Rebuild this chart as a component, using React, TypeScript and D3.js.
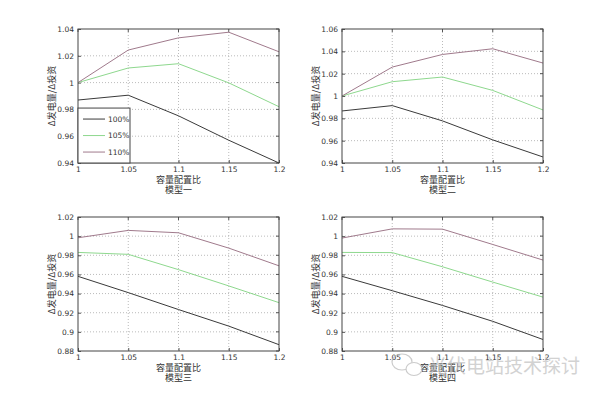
import React, { useRef, useEffect } from "react";
import * as d3 from "d3";

// capacity ratio (x axis)
const ratios = [1, 1.05, 1.1, 1.15, 1.2];
const seriesNames = ["100%", "105%", "110%"];
const seriesColors = ["#3a3a3a", "#8ed88e", "#a07a8c"];

// model 1
const m1s100 = [0.987, 0.9906, 0.9752, 0.957, 0.94];
const m1s105 = [1.0, 1.0109, 1.0141, 0.9998, 0.982];
const m1s110 = [1.0, 1.0243, 1.0334, 1.0376, 1.023];
// model 2
const m2s100 = [0.9866, 0.9914, 0.9777, 0.9607, 0.9454];
const m2s105 = [1.0, 1.0128, 1.017, 1.005, 0.9875];
const m2s110 = [1.0, 1.0259, 1.0372, 1.0423, 1.0295];
// model 3
const m3s100 = [0.958, 0.941, 0.9233, 0.906, 0.8866];
const m3s105 = [0.983, 0.981, 0.965, 0.948, 0.9305];
const m3s110 = [0.9983, 1.006, 1.0035, 0.9875, 0.969];
// model 4
const m4s100 = [0.958, 0.943, 0.9276, 0.911, 0.892];
const m4s105 = [0.983, 0.9828, 0.968, 0.952, 0.9363];
const m4s110 = [0.998, 1.0076, 1.0073, 0.9913, 0.975];

const yTicks1 = [0.94, 0.96, 0.98, 1, 1.02, 1.04];
const yTicks2 = [0.94, 0.96, 0.98, 1, 1.02, 1.04, 1.06];
const yTicks3 = [0.88, 0.9, 0.92, 0.94, 0.96, 0.98, 1, 1.02];

const xLabel = "容量配置比";
const yLabel = "Δ发电量/Δ投资";
const watermark = "光伏电站技术探讨";

const panels = [
  { title: "模型一", series: [m1s100, m1s105, m1s110], yTicks: yTicks1, left: 78, top: 29, legend: true },
  { title: "模型二", series: [m2s100, m2s105, m2s110], yTicks: yTicks2, left: 342, top: 29, legend: false },
  { title: "模型三", series: [m3s100, m3s105, m3s110], yTicks: yTicks3, left: 78, top: 217, legend: false },
  { title: "模型四", series: [m4s100, m4s105, m4s110], yTicks: yTicks3, left: 342, top: 217, legend: false },
];

const W = 600;
const H = 395;
const pw = 201;
const ph = 134;
const fmt = (v: number) => String(+v.toFixed(2));

const App = () => {
  const container = useRef<SVGSVGElement | null>(null);

  useEffect(() => {
    const svg = d3.select(container.current);
    svg.selectAll("*").remove();
    svg.append("rect").attr("width", W).attr("height", H).attr("fill", "#fff");

    panels.forEach((p) => {
      const g = svg.append("g").attr("transform", `translate(${p.left},${p.top})`);
      const x = d3.scaleLinear().domain([1, 1.2]).range([0, pw]);
      const yDom = d3.extent(p.yTicks) as [number, number];
      const y = d3.scaleLinear().domain(yDom).range([ph, 0]);

      // grid
      g.selectAll(".gx")
        .data(ratios.slice(1, -1))
        .enter()
        .append("line")
        .attr("x1", (d) => x(d))
        .attr("x2", (d) => x(d))
        .attr("y1", 0)
        .attr("y2", ph)
        .attr("stroke", "#aaa")
        .attr("stroke-width", 0.8)
        .attr("stroke-dasharray", "1,2");
      g.selectAll(".gy")
        .data(p.yTicks.slice(1, -1))
        .enter()
        .append("line")
        .attr("x1", 0)
        .attr("x2", pw)
        .attr("y1", (d) => y(d))
        .attr("y2", (d) => y(d))
        .attr("stroke", "#aaa")
        .attr("stroke-width", 0.8)
        .attr("stroke-dasharray", "1,2");

      // axes
      const xAxis = d3.axisBottom(x).tickValues(ratios).tickSize(-3).tickPadding(4).tickFormat((d) => fmt(+d));
      const yAxis = d3.axisLeft(y).tickValues(p.yTicks).tickSize(-3).tickPadding(4).tickFormat((d) => fmt(+d));
      const gx = g.append("g").attr("transform", `translate(0,${ph})`).call(xAxis);
      const gy = g.append("g").call(yAxis);
      [gx, gy].forEach((a) => {
        a.select(".domain").remove();
        a.selectAll("line").attr("stroke", "#555");
        a.selectAll("text")
          .style("font-family", "DejaVu Sans, sans-serif")
          .style("font-size", "7.5px")
          .attr("fill", "#333");
      });
      // top/right ticks
      g.selectAll(".tt")
        .data(ratios)
        .enter()
        .append("line")
        .attr("x1", (d) => x(d))
        .attr("x2", (d) => x(d))
        .attr("y1", 0)
        .attr("y2", 3)
        .attr("stroke", "#555");
      g.selectAll(".rt")
        .data(p.yTicks)
        .enter()
        .append("line")
        .attr("x1", pw - 3)
        .attr("x2", pw)
        .attr("y1", (d) => y(d))
        .attr("y2", (d) => y(d))
        .attr("stroke", "#555");

      // lines
      const line = d3
        .line<number>()
        .x((d, i) => x(ratios[i]))
        .y((d) => y(d));
      p.series.forEach((s, i) => {
        g.append("path")
          .attr("d", line(s))
          .attr("fill", "none")
          .attr("stroke", seriesColors[i])
          .attr("stroke-width", 1);
      });

      // frame
      g.append("rect")
        .attr("width", pw)
        .attr("height", ph)
        .attr("fill", "none")
        .attr("stroke", "#444")
        .attr("stroke-width", 1);

      // labels
      g.append("text")
        .attr("transform", `translate(-23,${ph / 2}) rotate(-90)`)
        .attr("text-anchor", "middle")
        .style("font-family", "Noto Sans CJK SC, sans-serif")
        .style("font-size", "9px")
        .attr("fill", "#333")
        .text(yLabel);
      g.append("text")
        .attr("x", pw / 2)
        .attr("y", ph + 20)
        .attr("text-anchor", "middle")
        .style("font-family", "Noto Sans CJK SC, sans-serif")
        .style("font-size", "9px")
        .attr("fill", "#333")
        .text(xLabel);
      g.append("text")
        .attr("x", pw / 2)
        .attr("y", ph + 29.5)
        .attr("text-anchor", "middle")
        .style("font-family", "Noto Sans CJK SC, sans-serif")
        .style("font-size", "9px")
        .attr("fill", "#333")
        .text(p.title);

      if (p.legend) {
        const lg = g.append("g").attr("transform", `translate(0,${y(0.981)})`);
        lg.append("rect")
          .attr("width", 52)
          .attr("height", ph - y(0.981))
          .attr("fill", "#fff")
          .attr("stroke", "#444");
        seriesNames.forEach((n, i) => {
          lg.append("line")
            .attr("x1", 5)
            .attr("x2", 27)
            .attr("y1", 11 + i * 16.5)
            .attr("y2", 11 + i * 16.5)
            .attr("stroke", seriesColors[i]);
          lg.append("text")
            .attr("x", 30)
            .attr("y", 13.5 + i * 16.5)
            .style("font-family", "DejaVu Sans, sans-serif")
            .style("font-size", "7.5px")
            .attr("fill", "#333")
            .text(n);
        });
      }
    });

    // watermark: wechat-like icon + account name
    const wm = svg.append("g").attr("opacity", 0.75);
    wm.append("ellipse")
      .attr("cx", 402)
      .attr("cy", 362)
      .attr("rx", 10)
      .attr("ry", 8)
      .attr("fill", "none")
      .attr("stroke", "#bbb")
      .attr("stroke-width", 1.2);
    wm.append("ellipse")
      .attr("cx", 414)
      .attr("cy", 369)
      .attr("rx", 8)
      .attr("ry", 6.5)
      .attr("fill", "#fff")
      .attr("stroke", "#bbb")
      .attr("stroke-width", 1.2);
    wm.append("text")
      .attr("x", 428)
      .attr("y", 373)
      .style("font-family", "Noto Sans CJK SC, sans-serif")
      .style("font-size", "19px")
      .attr("fill", "#c4c4c4")
      .text(watermark);
  }, []);

  return (
    <div style={{ position: "absolute", left: 0, top: 0, width: W, height: H }}>
      <svg ref={container} width={W} height={H} style={{ display: "block" }} />
    </div>
  );
};

export default App;
